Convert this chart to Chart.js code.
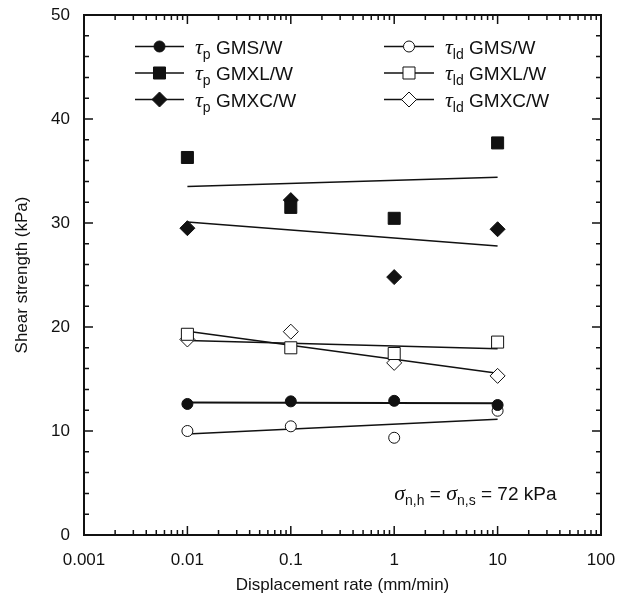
<!DOCTYPE html>
<html>
<head>
<meta charset="utf-8">
<title>Shear strength vs displacement rate</title>
<script src="https://cdn.jsdelivr.net/npm/chart.js@4/dist/chart.umd.min.js"></script>
<style>
  html, body { margin: 0; padding: 0; background: #ffffff; }
  #wrap { width: 618px; height: 599px; position: relative; }
</style>
</head>
<body>
<div id="wrap"><canvas id="chart" width="618" height="599"></canvas></div>
<script>
// Displacement rates tested (mm/min)
const rates = [0.01, 0.1, 1, 10];

// Peak shear strength, kPa
const peakGMS  = [12.6, 12.85, 12.9, 12.5];
const peakGMXL = [36.3, 31.5, 30.45, 37.7];
const peakGMXC = [29.5, 32.2, 24.8, 29.4];

// Large-displacement shear strength, kPa
const ldGMS  = [10.0, 10.45, 9.35, 11.95];
const ldGMXL = [19.3, 18.0, 17.45, 18.55];
const ldGMXC = [18.8, 19.55, 16.55, 15.3];

// Trend lines, values at both ends of the tested range
const fitRates    = [0.01, 10];
const fitPeakGMS  = [12.75, 12.68];
const fitPeakGMXL = [33.5, 34.4];
const fitPeakGMXC = [30.1, 27.8];
const fitLdGMS    = [9.72, 11.13];
const fitLdGMXL   = [18.7, 17.9];
const fitLdGMXC   = [19.6, 15.55];

// Interface names and axis tick labels
const interfaces  = ['GMS/W', 'GMXL/W', 'GMXC/W'];
const xTickLabels = ['0.001', '0.01', '0.1', '1', '10', '100'];
const xMinorSteps = [2, 3, 4, 5, 6, 7, 8, 9];
const yTickLabels = ['0', '10', '20', '30', '40', '50'];
const yMinorStep  = 2;

const INK = '#111111';
const SANS = '"Liberation Sans", Arial, Helvetica, sans-serif';
const SERIF = '"Liberation Serif", "Times New Roman", serif';

const markerStyles = ['circle', 'rect', 'rectRot'];
const markerRadii  = [5.5, 8.5, 7.5];

function pointSet(label, values, kind, filled) {
  return {
    label: label,
    data: rates.map((x, k) => ({ x: x, y: values[k] })),
    showLine: false,
    pointStyle: markerStyles[kind],
    pointRadius: markerRadii[kind],
    pointHoverRadius: markerRadii[kind],
    backgroundColor: filled ? INK : '#ffffff',
    borderColor: INK,
    pointBorderWidth: 1,
    order: 0
  };
}

function fitSet(values, width) {
  return {
    label: '',
    data: fitRates.map((x, k) => ({ x: x, y: values[k] })),
    showLine: true,
    borderColor: INK,
    borderWidth: width,
    pointRadius: 0,
    pointHoverRadius: 0,
    order: 1
  };
}

const datasets = [
  fitSet(fitPeakGMS, 2),
  fitSet(fitPeakGMXL, 1.5),
  fitSet(fitPeakGMXC, 1.5),
  fitSet(fitLdGMS, 1.5),
  fitSet(fitLdGMXL, 1.5),
  fitSet(fitLdGMXC, 1.5),
  pointSet('p ' + interfaces[0], peakGMS, 0, true),
  pointSet('p ' + interfaces[1], peakGMXL, 1, true),
  pointSet('p ' + interfaces[2], peakGMXC, 2, true),
  pointSet('ld ' + interfaces[0], ldGMS, 0, false),
  pointSet('ld ' + interfaces[1], ldGMXL, 1, false),
  pointSet('ld ' + interfaces[2], ldGMXC, 2, false)
];

// Frame, inward tick marks on all four sides, legend and note
const decorations = {
  id: 'decorations',
  afterDatasetsDraw(chart) {
    const ctx = chart.ctx;
    const a = chart.chartArea;
    const xs = chart.scales.x;
    const ys = chart.scales.y;
    ctx.save();
    ctx.strokeStyle = INK;
    ctx.fillStyle = INK;

    // tick marks
    ctx.lineWidth = 1.5;
    ctx.beginPath();
    const decades = xTickLabels.map(Number);
    decades.forEach((d, i) => {
      const px = xs.getPixelForValue(d);
      ctx.moveTo(px, a.bottom); ctx.lineTo(px, a.bottom - 9);
      ctx.moveTo(px, a.top);    ctx.lineTo(px, a.top + 9);
      if (i < decades.length - 1) {
        xMinorSteps.forEach(m => {
          const mx = xs.getPixelForValue(d * m);
          ctx.moveTo(mx, a.bottom); ctx.lineTo(mx, a.bottom - 5);
          ctx.moveTo(mx, a.top);    ctx.lineTo(mx, a.top + 5);
        });
      }
    });
    const yMax = Number(yTickLabels[yTickLabels.length - 1]);
    const yMajors = yTickLabels.map(Number);
    for (let v = 0; v <= yMax; v += yMinorStep) {
      const py = ys.getPixelForValue(v);
      const len = yMajors.includes(v) ? 9 : 5;
      ctx.moveTo(a.left, py);  ctx.lineTo(a.left + len, py);
      ctx.moveTo(a.right, py); ctx.lineTo(a.right - len, py);
    }
    ctx.stroke();

    // frame
    ctx.lineWidth = 2;
    ctx.strokeRect(a.left, a.top, a.right - a.left, a.bottom - a.top);

    // legend: peak values on the left column, large-displacement on the right
    const rowsY = [46.5, 73, 99.5];
    const cols = [
      { x0: 135, x1: 184, text: 195, sub: 'p' },
      { x0: 384, x1: 434, text: 445, sub: 'ld' }
    ];
    ctx.textBaseline = 'alphabetic';
    ctx.textAlign = 'left';
    cols.forEach((col, c) => {
      interfaces.forEach((name, r) => {
        const ds = chart.data.datasets[6 + c * 3 + r];
        const y = rowsY[r];
        ctx.lineWidth = 1.5;
        ctx.strokeStyle = INK;
        ctx.beginPath();
        ctx.moveTo(col.x0, y); ctx.lineTo(col.x1, y);
        ctx.stroke();
        ctx.fillStyle = ds.backgroundColor;
        ctx.strokeStyle = ds.borderColor;
        ctx.lineWidth = ds.pointBorderWidth;
        Chart.helpers.drawPoint(ctx, {
          pointStyle: ds.pointStyle, radius: ds.pointRadius, rotation: 0, borderWidth: ds.pointBorderWidth
        }, (col.x0 + col.x1) / 2, y);

        ctx.fillStyle = INK;
        let x = col.text;
        const base = y + 7;
        ctx.font = 'italic 22px ' + SERIF;
        ctx.fillText('\u03c4', x, base);
        x += ctx.measureText('\u03c4').width;
        ctx.font = '14px ' + SANS;
        ctx.fillText(col.sub, x, base + 5);
        x += ctx.measureText(col.sub).width;
        ctx.font = '19px ' + SANS;
        ctx.fillText(' ' + name, x, base);
      });
    });

    // normal stress note
    let nx = xs.getPixelForValue(1);
    const nb = ys.getPixelForValue(4) + 7;
    const parts = [
      ['\u03c3', 'italic 22px ' + SERIF, 0],
      ['n,h', '14px ' + SANS, 5],
      [' = ', '19px ' + SANS, 0],
      ['\u03c3', 'italic 22px ' + SERIF, 0],
      ['n,s', '14px ' + SANS, 5],
      [' = 72 kPa', '19px ' + SANS, 0]
    ];
    ctx.fillStyle = INK;
    parts.forEach(([t, f, dy]) => {
      ctx.font = f;
      ctx.fillText(t, nx, nb + dy);
      nx += ctx.measureText(t).width;
    });
    ctx.restore();
  }
};

new Chart(document.getElementById('chart'), {
  type: 'scatter',
  data: { datasets: datasets },
  options: {
    responsive: false,
    animation: false,
    devicePixelRatio: 1,
    layout: { padding: { left: 0, right: 17, top: 15, bottom: 0 } },
    plugins: { legend: { display: false }, tooltip: { enabled: false } },
    scales: {
      x: {
        type: 'logarithmic',
        min: 0.001,
        max: 100,
        afterBuildTicks: s => { s.ticks = xTickLabels.map(t => ({ value: Number(t) })); },
        afterFit: s => { s.height = 64; s.paddingLeft = 0; s.paddingRight = 0; },
        grid: { display: false, drawTicks: false },
        border: { display: false },
        ticks: {
          autoSkip: false, maxRotation: 0, padding: 15, color: INK,
          font: { family: SANS, size: 17 },
          callback: (v, i) => xTickLabels[i]
        },
        title: {
          display: true, text: 'Displacement rate (mm/min)', color: INK,
          font: { family: SANS, size: 17 }, padding: { top: 0, bottom: 3 }
        }
      },
      y: {
        min: 0,
        max: 50,
        afterBuildTicks: s => { s.ticks = yTickLabels.map(t => ({ value: Number(t) })); },
        afterFit: s => { s.width = 84; s.paddingTop = 0; s.paddingBottom = 0; },
        grid: { display: false, drawTicks: false },
        border: { display: false },
        ticks: {
          autoSkip: false, padding: 14, color: INK,
          font: { family: SANS, size: 17 },
          callback: (v, i) => yTickLabels[i]
        },
        title: {
          display: true, text: 'Shear strength (kPa)', color: INK,
          font: { family: SANS, size: 17 }, padding: { top: 12, bottom: 0 }
        }
      }
    }
  },
  plugins: [decorations]
});
</script>
</body>
</html>
